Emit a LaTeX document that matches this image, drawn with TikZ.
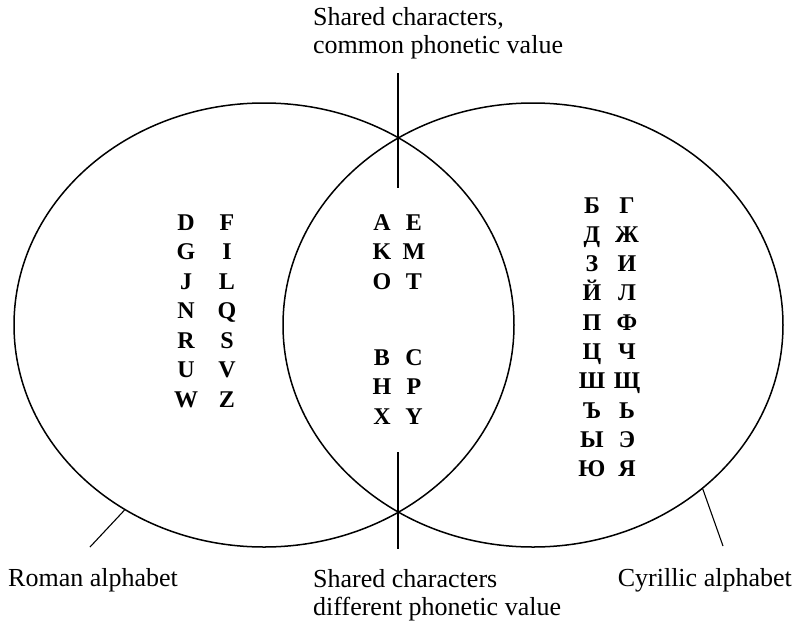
\documentclass[tikz,border=0pt]{standalone}
\usepackage{fontspec}
\setmainfont{Liberation Serif}
\usetikzlibrary{shapes.geometric}

\begin{document}
\begin{tikzpicture}[
  x=1pt, y=-1pt,
  set/.style={draw, ellipse, line width=1.5pt, inner sep=0pt, minimum width=500pt, minimum height=444pt},
  letter/.style={font=\fontsize{24}{26}\selectfont\bfseries, inner sep=0pt, text height=16pt, text depth=0pt},
  caption/.style={font=\fontsize{26}{28}\selectfont, inner sep=0pt, align=left},
  pointer/.style={line width=1.1pt}
]
\useasboundingbox (0,0) rectangle (796,622);

\node[set] (roman) at (264,325) {};
\node[set] (cyrillic) at (533,325) {};

\node[caption, anchor=north west] (common) at (313,7) {Shared characters,\\common phonetic value};
\node[caption, anchor=north west] (different) at (313,569) {Shared characters\\different phonetic value};
\node[caption, anchor=base west] (roman_lbl) at (8,586) {Roman alphabet};
\node[caption, anchor=base east] (cyrillic_lbl) at (792,586) {Cyrillic alphabet};

\coordinate (common_a) at (398,73);
\coordinate (common_b) at (398,188);
\coordinate (different_a) at (398,452);
\coordinate (different_b) at (398,549);
\coordinate (roman_end) at (90,547);
\coordinate (cyrillic_end) at (723,546);

\draw[pointer] (common_a) -- (common_b);
\draw[pointer] (different_a) -- (different_b);
\draw[pointer] (roman.233) -- (roman_end);
\draw[pointer] (cyrillic.316) -- (cyrillic_end);

\foreach \a/\b [count=\i from 0] in {D/F,G/I,J/L,N/Q,R/S,U/V,W/Z} {
  \node[letter] (roman_a\i) at (186,{222+29.5*\i}) {\a};
  \node[letter] (roman_b\i) at (227,{222+29.5*\i}) {\b};
}
\foreach \a/\b [count=\i from 0] in {A/E,K/M,O/T} {
  \node[letter] (common_a\i) at (382,{222+29.5*\i}) {\a};
  \node[letter] (common_b\i) at (414,{222+29.5*\i}) {\b};
}
\foreach \a/\b [count=\i from 0] in {B/C,H/P,X/Y} {
  \node[letter] (different_a\i) at (382,{357+29.5*\i}) {\a};
  \node[letter] (different_b\i) at (414,{357+29.5*\i}) {\b};
}
\foreach \a/\b [count=\i from 0] in {Б/Г,Д/Ж,З/И,Й/Л,П/Ф,Ц/Ч,Ш/Щ,Ъ/Ь,Ы/Э,Ю/Я} {
  \node[letter] (cyrillic_a\i) at (592,{205+29.3*\i}) {\a};
  \node[letter] (cyrillic_b\i) at (627,{205+29.3*\i}) {\b};
}
\end{tikzpicture}
\end{document}
